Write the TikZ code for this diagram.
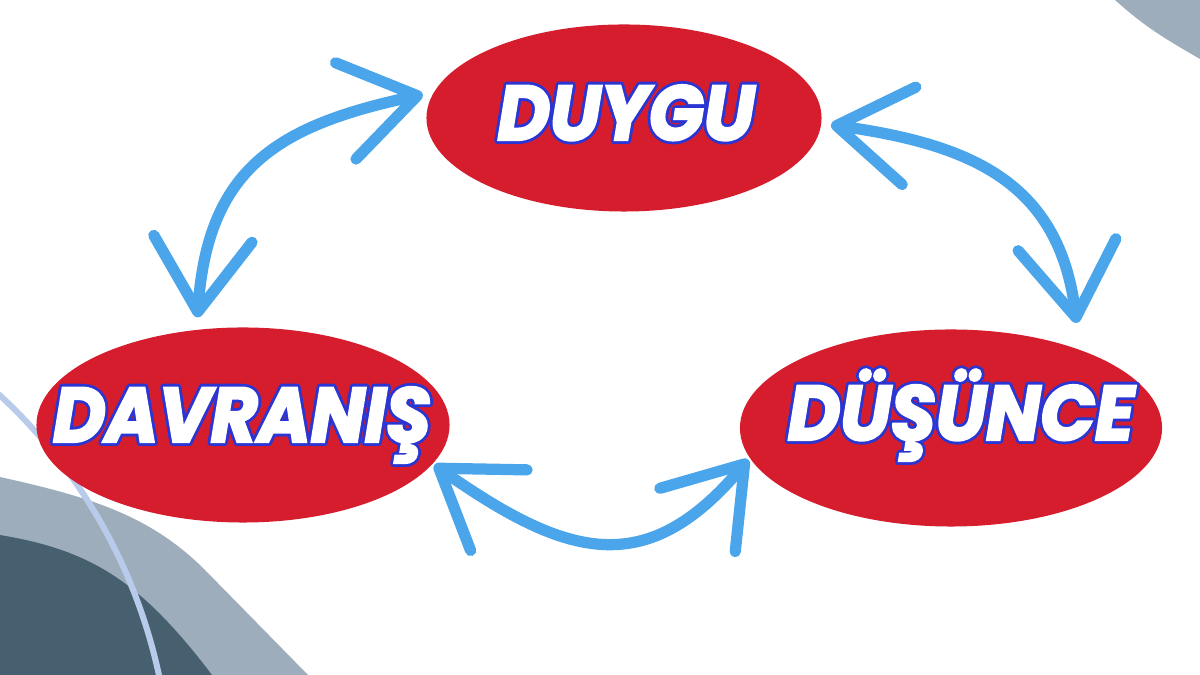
\documentclass[tikz,border=0pt]{standalone}
\usepackage{fontspec}
\setmainfont{Poppins}
\newfontfamily\wordfont{Poppins}[FakeBold=3,FakeStretch=0.93]
\usetikzlibrary{positioning,arrows.meta,shapes.geometric}
\definecolor{blobred}{HTML}{D51D2E}
\definecolor{arrowblue}{HTML}{4AA5EA}
\definecolor{edgeblue}{HTML}{2B36D2}
\definecolor{slatelight}{HTML}{9EADBB}
\definecolor{slatedark}{HTML}{46606F}
\definecolor{arcblue}{HTML}{B9CBEA}
\newcommand{\edgecopy}[3]{\rlap{\hspace*{#1}\raisebox{#2}{\textcolor{edgeblue}{#3}}}}
\newcommand{\edged}[1]{%
  \foreach \ang in {0,30,...,330}{%
    \pgfmathsetlengthmacro{\ex}{2pt*cos(\ang)}%
    \pgfmathsetlengthmacro{\ey}{2pt*sin(\ang)}%
    \edgecopy{\ex}{\ey}{#1}}%
  \textcolor{white}{#1}}
\tikzset{
  blob/.style={ellipse, fill=blobred, inner sep=0pt, outer sep=0pt},
  word/.style={font=\fontsize{55}{60}\selectfont\wordfont\bfseries\itshape, inner sep=0pt, anchor=base},
  twoway/.style={draw=arrowblue, line width=8pt, line cap=round, line join=round,
    >={Straight Barb[length=52pt,width=70pt,round]}, <->},
}

\begin{document}
\begin{tikzpicture}[x=0.025cm,y=0.025cm]
\useasboundingbox (0,0) rectangle (1200,675);
\fill[slatelight] (1115,675) to[out=-42,in=150] (1200,616) -- (1200,675) -- cycle;
\fill[slatelight] (0,198) .. controls (90,178) and (150,160) .. (205,105) -- (308,0) -- (0,0) -- cycle;
\fill[slatedark] (0,140) .. controls (90,125) and (140,95) .. (212,0) -- (0,0) -- cycle;
\draw[arcblue, line width=4.3pt] (-5,284) .. controls (50,235) and (130,140) .. (160,-5);
\node[blob, minimum width=9.875cm, minimum height=4.675cm] (duygu) at (624,557) {};
\node[blob, minimum width=10.325cm, minimum height=4.875cm] (davranis) at (243,250) {};
\node[blob, minimum width=10.55cm, minimum height=4.925cm] (dusunce) at (951,247) {};
\node[word] (duygu-w) at (626,535) {\edged{DUYGU}};
\node[word] (davranis-w) at (242,233) {\edged{DAVRANIŞ}};
\node[word] (dusunce-w) at (961,235) {\edged{DÜŞÜNCE}};
\draw[twoway] ([xshift=-0.125cm,yshift=0.3cm]davranis.113) to[out=86,in=192,looseness=1.2] ([xshift=-0.25cm]duygu.173);
\draw[twoway] ([xshift=0.25cm]duygu.-2) to[out=-8,in=97,looseness=1.15] ([xshift=0.575cm,yshift=0.475cm]dusunce.40);
\draw[twoway] ([xshift=0.075cm]davranis.-12) to[out=-35,in=230,looseness=1.3] ([xshift=-0.075cm]dusunce.189);
\end{tikzpicture}
\end{document}
